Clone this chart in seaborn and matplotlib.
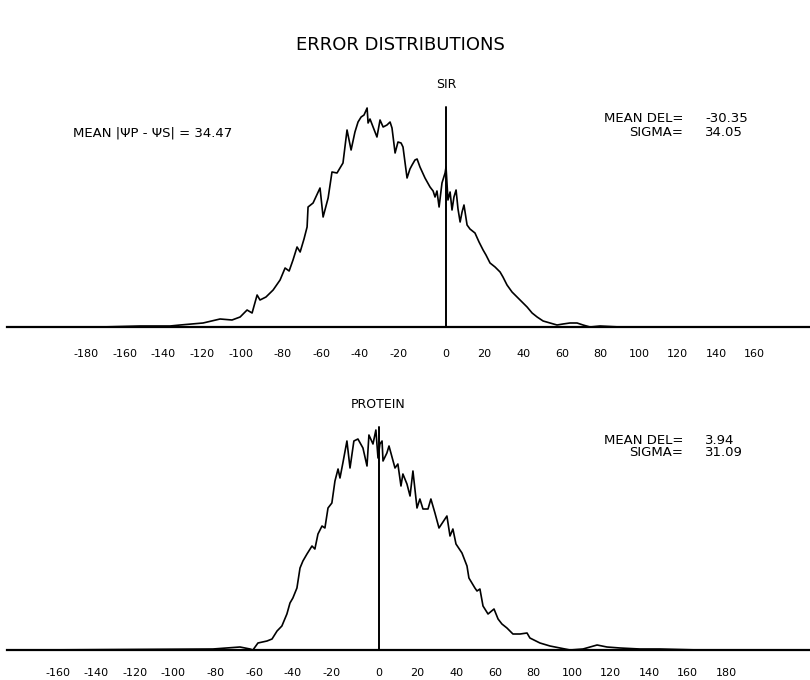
import matplotlib
matplotlib.use("Agg")
import matplotlib.pyplot as plt
import seaborn as sns

# ---------------- data ----------------
sir_deg = [-179.3, -158.5, -143.0, -137.8, -125.9, -117.1, -110.9, -106.7, -103.1, -100.5,
           -97.9, -96.4, -93.3, -89.6, -86.0, -83.4, -81.3, -79.3, -77.2, -75.6,
           -73.6, -72.0, -71.5, -68.9, -65.3, -63.7, -61.1, -59.1, -56.5, -53.4,
           -51.3, -49.2, -47.2, -45.6, -44.0, -42.5, -40.9, -40.4, -39.4, -37.8,
           -35.8, -34.2, -32.6, -30.6, -29.0, -28.0, -26.4, -24.9, -23.3, -22.3,
           -20.2, -18.7, -17.6, -16.1, -15.0, -13.5, -10.9, -8.3, -6.7, -5.7,
           -4.7, -3.6, -2.1, -0.5, 0.0, 1.0, 2.1, 3.1, 4.1, 5.2,
           6.2, 7.3, 8.3, 9.3, 10.9, 12.4, 15.0, 17.1, 19.2, 20.7,
           22.8, 25.4, 28.0, 29.5, 31.6, 34.2, 36.8, 39.4, 42.0, 44.6,
           47.2, 50.3, 53.9, 57.5, 60.6, 64.2, 67.9, 71.0, 74.6, 79.8,
           90.2, 180.0]
sir_count = [0, 1, 1, 2, 4, 8, 7, 10, 17, 14,
             32, 27, 30, 37, 47, 59, 56, 67, 80, 75,
             88, 100, 120, 124, 139, 110, 129, 155, 154, 164,
             197, 177, 195, 205, 210, 212, 219, 204, 208, 200,
             190, 207, 200, 202, 205, 199, 174, 185, 184, 180,
             149, 158, 162, 167, 168, 160, 149, 140, 136, 130,
             136, 120, 144, 154, 160, 127, 135, 117, 130, 137,
             118, 105, 115, 122, 102, 98, 94, 85, 77, 72,
             64, 60, 55, 50, 42, 35, 30, 25, 20, 14,
             10, 6, 4, 2, 3, 4, 4, 2, 0, 1,
             0, 0]

prot_deg = [-180.0, -86.0, -72.0, -66.8, -65.3, -62.7, -58.0, -55.4, -52.8, -50.3,
            -47.7, -46.1, -44.6, -42.5, -40.9, -39.4, -37.3, -34.7, -33.2, -31.6,
            -29.5, -28.0, -26.4, -24.4, -22.8, -21.2, -20.2, -18.7, -16.6, -15.0,
            -13.0, -10.9, -8.3, -6.2, -5.2, -3.1, -1.6, -0.5, 0.5, 1.6,
            2.1, 4.1, 5.2, 8.3, 9.8, 11.4, 12.4, 14.5, 16.1, 17.6,
            19.7, 21.2, 22.8, 25.4, 26.9, 29.0, 31.1, 35.2, 36.8, 38.3,
            39.9, 43.0, 45.6, 46.6, 49.7, 50.8, 52.3, 53.9, 56.5, 59.6,
            61.7, 63.7, 66.3, 69.4, 73.1, 76.7, 78.2, 83.4, 88.6, 93.8,
            99.0, 105.7, 113.0, 118.1, 124.9, 135.2, 145.6, 166.3, 180.0]
prot_count = [0, 1, 3, 1, 0, 7, 9, 11, 19, 24,
              36, 47, 52, 62, 82, 89, 96, 104, 101, 116,
              124, 122, 142, 147, 169, 181, 172, 187, 209, 182,
              209, 211, 202, 184, 215, 206, 220, 192, 206, 209,
              189, 197, 204, 182, 186, 164, 176, 166, 154, 179,
              142, 151, 141, 141, 151, 137, 122, 134, 114, 121,
              106, 97, 84, 72, 62, 59, 61, 44, 36, 41,
              31, 26, 22, 16, 16, 17, 12, 7, 4, 2,
              0, 1, 5, 3, 2, 1, 1, 0, 0]

sir_ticks = [-180, -160, -140, -120, -100, -80, -60, -40, -20, 0, 20, 40, 60, 80, 100, 120, 140, 160]
prot_ticks = [-160, -140, -120, -100, -80, -60, -40, -20, 0, 20, 40, 60, 80, 100, 120, 140, 160, 180]

title = "ERROR DISTRIBUTIONS"
panel_titles = ["SIR", "PROTEIN"]
mean_del = ["-30.35", "3.94"]
sigma = ["34.05", "31.09"]
mean_abs_text = "MEAN |\u03a8P - \u03a8S| = 34.47"

# ---------------- drawing ----------------
sns.set_style("white")
plt.rcParams["font.family"] = ["DejaVu Sans"]

W, H = 810, 680
fig = plt.figure(figsize=(W / 100, H / 100), dpi=100)

def px_axes(left, baseline, top, right=W):
    return fig.add_axes([left / W, (H - baseline) / H, (right - left) / W, (baseline - top) / H])

ax1 = px_axes(7, 327, 100)
ax2 = px_axes(7, 650, 420)

panels = [
    (ax1, sir_deg, sir_count, (-227.5, 188.6), sir_ticks, 227, 220, 16),
    (ax2, prot_deg, prot_count, (-192.7, 223.3), prot_ticks, 230, 223, 13),
]

for ax, deg, cnt, xlim, ticks, ytop, vline_h, pad in panels:
    sns.lineplot(x=deg, y=cnt, ax=ax, color="black", linewidth=1.2, estimator=None)
    ax.set_xlim(*xlim)
    ax.set_ylim(0, ytop)
    ax.axvline(0, ymin=0, ymax=vline_h / ytop, color="black", linewidth=1.4)
    for s in ["top", "left", "right"]:
        ax.spines[s].set_visible(False)
    ax.spines["bottom"].set_linewidth(1.6)
    ax.spines["bottom"].set_color("black")
    ax.set_yticks([])
    ax.set_xticks(ticks)
    ax.set_xticklabels([str(t) for t in ticks])
    ax.tick_params(axis="x", length=0, pad=pad, labelsize=8, colors="black")
    for lab in ax.get_xticklabels():
        if lab.get_text().startswith("-"):
            lab.set_ha("right")
    ax.set_xlabel("")
    ax.set_ylabel("")
    ax.patch.set_alpha(0)

def ftext(x, y, s, **kw):
    fig.text(x / W, 1 - y / H, s, va="center", color="black", **kw)

ftext(400, 45, title, ha="center", fontsize=13)
ftext(446, 85, panel_titles[0], ha="center", fontsize=9)
ftext(378, 405, panel_titles[1], ha="center", fontsize=9)

ftext(73, 133, mean_abs_text, ha="left", fontsize=9.5)

ftext(683, 119, "MEAN DEL=", ha="right", fontsize=9.5)
ftext(705, 119, mean_del[0], ha="left", fontsize=9.5)
ftext(683, 132, "SIGMA=", ha="right", fontsize=9.5)
ftext(705, 132, sigma[0], ha="left", fontsize=9.5)

ftext(683, 440, "MEAN DEL=", ha="right", fontsize=9.5)
ftext(705, 440, mean_del[1], ha="left", fontsize=9.5)
ftext(683, 453, "SIGMA=", ha="right", fontsize=9.5)
ftext(705, 453, sigma[1], ha="left", fontsize=9.5)

fig.savefig("out.png", dpi=100, facecolor="white")
